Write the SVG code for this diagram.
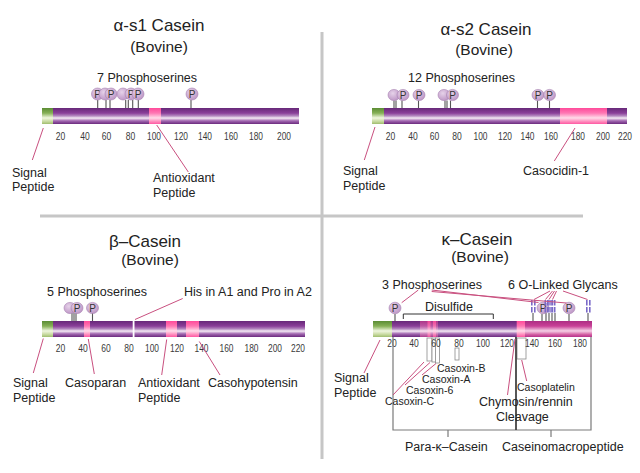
<svg xmlns="http://www.w3.org/2000/svg" width="640" height="473" viewBox="0 0 640 473">
<defs>
<linearGradient id="gP" x1="0" y1="0" x2="0" y2="1">
<stop offset="0" stop-color="#672879"/><stop offset="0.32" stop-color="#8a3f99"/><stop offset="0.5" stop-color="#b58bc1"/><stop offset="0.63" stop-color="#f5ecf5"/><stop offset="0.8" stop-color="#a46ab2"/><stop offset="1" stop-color="#6b2a7e"/>
</linearGradient>
<linearGradient id="gG" x1="0" y1="0" x2="0" y2="1">
<stop offset="0" stop-color="#5b8c34"/><stop offset="0.32" stop-color="#86b056"/><stop offset="0.62" stop-color="#f0f6df"/><stop offset="0.85" stop-color="#c5d89c"/><stop offset="1" stop-color="#a0bd6e"/>
</linearGradient>
<linearGradient id="gK" x1="0" y1="0" x2="0" y2="1">
<stop offset="0" stop-color="#ff4a9a"/><stop offset="0.32" stop-color="#ff78b4"/><stop offset="0.62" stop-color="#ffdbe9"/><stop offset="0.85" stop-color="#ff8abc"/><stop offset="1" stop-color="#ff58a2"/>
</linearGradient>
<linearGradient id="gM" x1="0" y1="0" x2="0" y2="1">
<stop offset="0" stop-color="#ad2d84"/><stop offset="0.32" stop-color="#c94197"/><stop offset="0.62" stop-color="#f5d0e6"/><stop offset="0.85" stop-color="#d35ca2"/><stop offset="1" stop-color="#b43289"/>
</linearGradient>
<radialGradient id="gC" cx="0.4" cy="0.35" r="0.7">
<stop offset="0" stop-color="#e6d2e9"/><stop offset="1" stop-color="#bb93c4"/>
</radialGradient>
<style>
text{font-family:'Liberation Sans',Arial,sans-serif;fill:#222}
.t{font-size:17px;text-anchor:middle}
.b{font-size:15.5px;text-anchor:middle}
.l{font-size:12.5px}
.s{font-size:10.5px}
.tk{font-size:11px;text-anchor:middle;fill:#3a3a3a}
.pc{fill:url(#gC);stroke:#a883b1;stroke-width:0.6}
.pt{font-size:10px;text-anchor:middle;fill:#333}
.st{stroke:#555;stroke-width:1.1}
.ld{stroke:#c9507f;stroke-width:1;fill:none}
.br{stroke:#7a7a7a;stroke-width:1.2;fill:none}
.bx{fill:#fff;stroke:#8a8a8a;stroke-width:0.8}
.gl{fill:#7a69c8}
.dv{stroke:#c6c6c6;stroke-width:3}
</style>
</defs>
<rect width="640" height="473" fill="#fff"/>

<g id="dividers">
<line class="dv" x1="322" y1="32" x2="322" y2="459"/>
<line class="dv" x1="40" y1="216" x2="583" y2="216"/>
</g>

<!-- alpha-s1 -->
<g id="as1">
<text class="t" x="159" y="31">α-s1 Casein</text>
<text class="b" x="159" y="52">(Bovine)</text>
<text class="l" x="97" y="82">7 Phosphoserines</text>
<g class="st">
<line x1="97.7" y1="100" x2="97.7" y2="108"/><line x1="106" y1="100" x2="106" y2="108"/><line x1="110" y1="100" x2="110" y2="108"/><line x1="125.7" y1="100" x2="125.7" y2="108"/><line x1="128.3" y1="100" x2="128.3" y2="108"/><line x1="132.7" y1="100" x2="132.7" y2="108"/><line x1="138.3" y1="100" x2="138.3" y2="108"/><line x1="191" y1="100" x2="191" y2="108"/>
</g>
<ellipse class="pc" cx="97.5" cy="94" rx="6" ry="6"/><text class="pt" x="97.5" y="97.5">P</text>
<ellipse class="pc" cx="105" cy="94" rx="6" ry="6"/>
<ellipse class="pc" cx="111" cy="94" rx="6" ry="6"/><text class="pt" x="111" y="97.5">P</text>
<ellipse class="pc" cx="123" cy="94" rx="6" ry="6"/>
<ellipse class="pc" cx="131" cy="94" rx="6" ry="6"/><text class="pt" x="131" y="97.5">P</text>
<ellipse class="pc" cx="138" cy="94" rx="6" ry="6"/><text class="pt" x="138" y="97.5">P</text>
<ellipse class="pc" cx="192" cy="94" rx="6" ry="6"/><text class="pt" x="192" y="97.5">P</text>
<rect x="42" y="108" width="257" height="16" fill="url(#gP)"/>
<rect x="42" y="108" width="11" height="16" fill="url(#gG)"/>
<rect x="149" y="108" width="12" height="16" fill="url(#gK)"/>
<g>
<text class="tk" x="60.5" y="140" textLength="9.5" lengthAdjust="spacingAndGlyphs">20</text>
<text class="tk" x="85" y="140" textLength="9.5" lengthAdjust="spacingAndGlyphs">40</text>
<text class="tk" x="106.5" y="140" textLength="9.5" lengthAdjust="spacingAndGlyphs">60</text>
<text class="tk" x="130.5" y="140" textLength="9.5" lengthAdjust="spacingAndGlyphs">80</text>
<text class="tk" x="154" y="140" textLength="14" lengthAdjust="spacingAndGlyphs">100</text>
<text class="tk" x="181" y="140" textLength="14" lengthAdjust="spacingAndGlyphs">120</text>
<text class="tk" x="205" y="140" textLength="14" lengthAdjust="spacingAndGlyphs">140</text>
<text class="tk" x="231" y="140" textLength="14" lengthAdjust="spacingAndGlyphs">160</text>
<text class="tk" x="256" y="140" textLength="14" lengthAdjust="spacingAndGlyphs">180</text>
<text class="tk" x="284" y="140" textLength="14" lengthAdjust="spacingAndGlyphs">200</text>
</g>
<text class="l" x="12" y="177">Signal</text>
<text class="l" x="12" y="191">Peptide</text>
<text class="l" x="153" y="182">Antioxidant</text>
<text class="l" x="153" y="197">Peptide</text>
</g>

<!-- alpha-s2 -->
<g id="as2">
<text class="t" x="486" y="35">α-s2 Casein</text>
<text class="b" x="484" y="55">(Bovine)</text>
<text class="l" x="408" y="82">12  Phosphoserines</text>
<g class="st">
<line x1="394" y1="100.5" x2="394" y2="108"/><line x1="396" y1="100.5" x2="396" y2="108"/><line x1="402" y1="100.5" x2="402" y2="108"/><line x1="418.5" y1="100.5" x2="418.5" y2="108"/><line x1="445" y1="100.5" x2="445" y2="108"/><line x1="447" y1="100.5" x2="447" y2="108"/><line x1="450.5" y1="100.5" x2="450.5" y2="108"/><line x1="537.5" y1="100.5" x2="537.5" y2="108"/><line x1="549.5" y1="100.5" x2="549.5" y2="108"/>
</g>
<ellipse class="pc" cx="394" cy="95" rx="6" ry="5.6"/>
<ellipse class="pc" cx="403" cy="95" rx="6" ry="5.6"/><text class="pt" x="403" y="98.5">P</text>
<ellipse class="pc" cx="419" cy="95" rx="6" ry="5.6"/><text class="pt" x="419" y="98.5">P</text>
<ellipse class="pc" cx="444" cy="95" rx="6" ry="5.6"/>
<ellipse class="pc" cx="452.5" cy="95" rx="6" ry="5.6"/><text class="pt" x="452.5" y="98.5">P</text>
<ellipse class="pc" cx="538" cy="95" rx="6" ry="5.6"/><text class="pt" x="538" y="98.5">P</text>
<ellipse class="pc" cx="549.5" cy="95" rx="6" ry="5.6"/><text class="pt" x="549.5" y="98.5">P</text>
<rect x="372" y="108" width="255" height="16" fill="url(#gP)"/>
<rect x="372" y="108" width="12" height="16" fill="url(#gG)"/>
<rect x="560" y="108" width="47" height="16" fill="url(#gK)"/>
<g>
<text class="tk" x="390.5" y="139.5" textLength="9.5" lengthAdjust="spacingAndGlyphs">20</text>
<text class="tk" x="413" y="139.5" textLength="9.5" lengthAdjust="spacingAndGlyphs">40</text>
<text class="tk" x="434.5" y="139.5" textLength="9.5" lengthAdjust="spacingAndGlyphs">60</text>
<text class="tk" x="457" y="139.5" textLength="9.5" lengthAdjust="spacingAndGlyphs">80</text>
<text class="tk" x="480.5" y="139.5" textLength="14" lengthAdjust="spacingAndGlyphs">100</text>
<text class="tk" x="505" y="139.5" textLength="14" lengthAdjust="spacingAndGlyphs">120</text>
<text class="tk" x="527.5" y="139.5" textLength="14" lengthAdjust="spacingAndGlyphs">140</text>
<text class="tk" x="551" y="139.5" textLength="14" lengthAdjust="spacingAndGlyphs">160</text>
<text class="tk" x="578" y="139.5" textLength="14" lengthAdjust="spacingAndGlyphs">180</text>
<text class="tk" x="603" y="139.5" textLength="14" lengthAdjust="spacingAndGlyphs">200</text>
<text class="tk" x="625" y="139.5" textLength="14" lengthAdjust="spacingAndGlyphs">220</text>
</g>
<text class="l" x="343" y="175">Signal</text>
<text class="l" x="343" y="189.5">Peptide</text>
<text class="l" x="523" y="174.5">Casocidin-1</text>
</g>

<!-- beta -->
<g id="beta">
<text class="t" x="145" y="247">β–Casein</text>
<text class="b" x="150" y="265">(Bovine)</text>
<text class="l" x="47" y="296">5 Phosphoserines</text>
<text class="l" x="184" y="296">His in A1 and Pro in A2</text>
<g class="st">
<line x1="72" y1="313" x2="72" y2="321"/><line x1="74" y1="313" x2="74" y2="321"/><line x1="76" y1="313" x2="76" y2="321"/><line x1="92.5" y1="313" x2="92.5" y2="321"/>
</g>
<ellipse class="pc" cx="70" cy="308" rx="6" ry="5.6"/>
<ellipse class="pc" cx="77" cy="308" rx="6" ry="5.6"/><text class="pt" x="77" y="311.5">P</text>
<ellipse class="pc" cx="92.5" cy="308" rx="6" ry="5.6"/><text class="pt" x="92.5" y="311.5">P</text>
<rect x="42" y="321" width="263" height="16" fill="url(#gP)"/>
<rect x="42" y="321" width="11" height="16" fill="url(#gG)"/>
<rect x="84" y="321" width="6" height="16" fill="url(#gK)"/>
<rect x="132.7" y="321" width="1.8" height="16" fill="#fff"/>
<rect x="166" y="321" width="11" height="16" fill="url(#gK)"/>
<rect x="186" y="321" width="13" height="16" fill="url(#gK)"/>
<g>
<text class="tk" x="60.5" y="351.5" textLength="9.5" lengthAdjust="spacingAndGlyphs">20</text>
<text class="tk" x="83" y="351.5" textLength="9.5" lengthAdjust="spacingAndGlyphs">40</text>
<text class="tk" x="106" y="351.5" textLength="9.5" lengthAdjust="spacingAndGlyphs">60</text>
<text class="tk" x="129" y="351.5" textLength="9.5" lengthAdjust="spacingAndGlyphs">80</text>
<text class="tk" x="152" y="351.5" textLength="14" lengthAdjust="spacingAndGlyphs">100</text>
<text class="tk" x="177" y="351.5" textLength="14" lengthAdjust="spacingAndGlyphs">120</text>
<text class="tk" x="201.5" y="351.5" textLength="14" lengthAdjust="spacingAndGlyphs">140</text>
<text class="tk" x="226.5" y="351.5" textLength="14" lengthAdjust="spacingAndGlyphs">160</text>
<text class="tk" x="251.5" y="351.5" textLength="14" lengthAdjust="spacingAndGlyphs">180</text>
<text class="tk" x="275" y="351.5" textLength="14" lengthAdjust="spacingAndGlyphs">200</text>
<text class="tk" x="298" y="351.5" textLength="14" lengthAdjust="spacingAndGlyphs">220</text>
</g>
<text class="l" x="13" y="387">Signal</text>
<text class="l" x="13" y="402">Peptide</text>
<text class="l" x="65" y="387">Casoparan</text>
<text class="l" x="138" y="387">Antioxidant</text>
<text class="l" x="138" y="402">Peptide</text>
<text class="l" x="208" y="387">Casohypotensin</text>
</g>

<!-- kappa -->
<g id="kappa">
<text class="t" x="477" y="245">κ–Casein</text>
<text class="b" x="480" y="262">(Bovine)</text>
<text class="l" x="382" y="288.5">3 Phosphoserines</text>
<text class="l" x="508" y="288.5">6 O-Linked Glycans</text>
<text class="l" x="425" y="311">Disulfide</text>
<path d="M403.3,319 V314 H493.3 V319" fill="none" stroke="#333" stroke-width="1"/>
<g class="st">
<line x1="395" y1="314" x2="395" y2="321"/><line x1="542" y1="314" x2="542" y2="321"/><line x1="569" y1="314" x2="569" y2="321"/>
<line x1="533" y1="313" x2="533" y2="321"/><line x1="546" y1="313" x2="546" y2="321"/><line x1="549" y1="313" x2="549" y2="321"/><line x1="552" y1="313" x2="552" y2="321"/><line x1="555" y1="313" x2="555" y2="321"/><line x1="588" y1="313" x2="588" y2="321"/>
</g>
<ellipse class="pc" cx="395" cy="308" rx="6" ry="5.8"/><text class="pt" x="395" y="311.5">P</text>
<ellipse class="pc" cx="543" cy="308" rx="6" ry="5.8"/><text class="pt" x="543" y="311.5">P</text>
<ellipse class="pc" cx="569" cy="308" rx="6" ry="5.8"/><text class="pt" x="569" y="311.5">P</text>
<g class="gl">
<rect x="531" y="300" width="1.6" height="5.5"/><rect x="534" y="300" width="1.6" height="5.5"/><rect x="531" y="307" width="1.6" height="5.5"/><rect x="534" y="307" width="1.6" height="5.5"/>
<rect x="544.5" y="300" width="1.5" height="5.5"/><rect x="546.8" y="300" width="1.5" height="5.5"/><rect x="544.5" y="307" width="1.5" height="5.5"/><rect x="546.8" y="307" width="1.5" height="5.5"/>
<rect x="548.2" y="300" width="1.5" height="5.5"/><rect x="550.3" y="300" width="1.5" height="5.5"/><rect x="548.2" y="307" width="1.5" height="5.5"/><rect x="550.3" y="307" width="1.5" height="5.5"/>
<rect x="551.8" y="300" width="1.5" height="5.5"/><rect x="554" y="300" width="1.5" height="5.5"/><rect x="551.8" y="307" width="1.5" height="5.5"/><rect x="554" y="307" width="1.5" height="5.5"/>
<rect x="586" y="300" width="1.6" height="5.5"/><rect x="589" y="300" width="1.6" height="5.5"/><rect x="586" y="307" width="1.6" height="5.5"/><rect x="589" y="307" width="1.6" height="5.5"/>
</g>
<rect x="373" y="321" width="219" height="16" fill="url(#gP)"/>
<rect x="373" y="321" width="19" height="16" fill="url(#gG)"/>
<rect x="420" y="321" width="18" height="16" fill="url(#gK)" opacity="0.45"/>
<rect x="427.5" y="321" width="3" height="16" fill="url(#gK)" opacity="0.8"/>
<rect x="433" y="321" width="3" height="16" fill="url(#gK)" opacity="0.8"/>
<rect x="525" y="321" width="67" height="16" fill="url(#gM)"/>
<rect x="516.7" y="321" width="8.3" height="16" fill="url(#gK)"/>
<rect class="bx" x="427" y="338" width="5" height="23"/>
<rect class="bx" x="432" y="338" width="4" height="24"/>
<rect class="bx" x="435.5" y="338" width="4" height="25"/>
<rect class="bx" x="455" y="348" width="4" height="12"/>
<rect class="bx" x="517" y="338" width="9" height="21"/>
<g>
<text class="tk" x="392" y="347" textLength="9.5" lengthAdjust="spacingAndGlyphs">20</text>
<text class="tk" x="414" y="347" textLength="9.5" lengthAdjust="spacingAndGlyphs">40</text>
<text class="tk" x="436" y="347" textLength="9.5" lengthAdjust="spacingAndGlyphs">60</text>
<text class="tk" x="459" y="347" textLength="9.5" lengthAdjust="spacingAndGlyphs">80</text>
<text class="tk" x="483" y="347" textLength="14" lengthAdjust="spacingAndGlyphs">100</text>
<text class="tk" x="507" y="347" textLength="14" lengthAdjust="spacingAndGlyphs">120</text>
<text class="tk" x="532" y="347" textLength="14" lengthAdjust="spacingAndGlyphs">140</text>
<text class="tk" x="555" y="347" textLength="14" lengthAdjust="spacingAndGlyphs">160</text>
<text class="tk" x="580" y="347" textLength="14" lengthAdjust="spacingAndGlyphs">180</text>
</g>
<path class="br" d="M393,337 V430 H591 V337"/>
<line x1="516" y1="337" x2="516" y2="430" stroke="#444" stroke-width="1.8"/>
<line class="br" x1="448" y1="430" x2="448" y2="437"/>
<line class="br" x1="551" y1="430" x2="551" y2="437"/>
<text class="s" x="437" y="371.5">Casoxin-B</text>
<text class="s" x="422" y="382.5">Casoxin-A</text>
<text class="s" x="406" y="393.5">Casoxin-6</text>
<text class="s" x="385" y="404.5">Casoxin-C</text>
<text class="s" x="517" y="391">Casoplatelin</text>
<text class="l" x="479" y="405.5">Chymosin/rennin</text>
<text class="l" x="496" y="420.5">Cleavage</text>
<text class="l" x="334" y="382">Signal</text>
<text class="l" x="334" y="397">Peptide</text>
<text class="l" x="405" y="451">Para-κ–Casein</text>
<text class="l" x="502" y="451">Caseinomacropeptide</text>
</g>

<g id="connectors" class="ld">
<line x1="43.3" y1="128" x2="32.3" y2="160"/>
<line x1="156.7" y1="125" x2="188.3" y2="172"/>
<line x1="375" y1="127" x2="364.3" y2="160"/>
<line x1="575" y1="128" x2="554.3" y2="161"/>
<line x1="43.3" y1="338.5" x2="33.3" y2="373"/>
<line x1="88.3" y1="339" x2="94.3" y2="374"/>
<line x1="166.7" y1="339.5" x2="161.7" y2="375"/>
<line x1="199.3" y1="341.5" x2="220" y2="375"/>
<line x1="135" y1="319.5" x2="182.7" y2="298.5"/>
<line x1="401.7" y1="302.7" x2="418.3" y2="290"/>
<line x1="431.7" y1="290" x2="538.5" y2="302.5"/>
<line x1="431.7" y1="291.5" x2="566.5" y2="303"/>
<line x1="550" y1="291" x2="534" y2="299.5"/>
<line x1="552.5" y1="291" x2="545.5" y2="299.5"/>
<line x1="554.5" y1="291" x2="549" y2="299.5"/>
<line x1="556.5" y1="291" x2="552.5" y2="299.5"/>
<line x1="563" y1="291" x2="587.5" y2="299.5"/>
<line x1="424" y1="362" x2="393" y2="395"/>
<line x1="430" y1="362.5" x2="405" y2="385"/>
<line x1="436" y1="363.5" x2="422" y2="375"/>
<line x1="515" y1="339" x2="507.5" y2="395"/>
<line x1="521.7" y1="360" x2="526.7" y2="381"/>
<line x1="380" y1="340" x2="364" y2="373"/>
</g>
</svg>
